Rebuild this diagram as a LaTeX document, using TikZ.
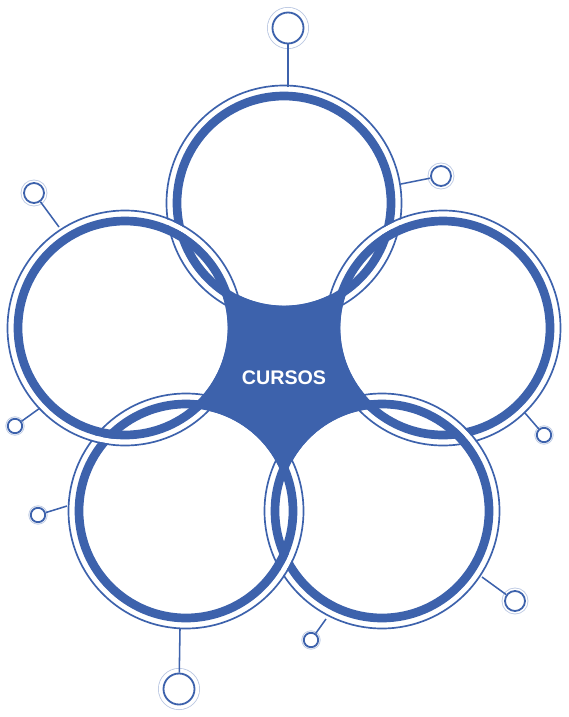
\documentclass[tikz,border=0pt]{standalone}
\usepackage{fontspec}
\newfontfamily\labelfont{Liberation Sans}
\usepackage{tikz}
\definecolor{ringblue}{HTML}{3D62AC}

\begin{document}
\begin{tikzpicture}[x=0.025cm, y=-0.025cm,
	thickring/.style={draw=ringblue, line width=6.2pt},
	thinring/.style={draw=ringblue, line width=1.2pt},
	gapring/.style={draw=white, line width=3.6pt},
	link/.style={draw=ringblue, line width=1.1pt},
	sat/.style 2 args={circle, inner sep=0pt, fill=white, draw=ringblue, line width=1.3pt,
		preaction={draw=ringblue!35, line width=#1},
		preaction={draw=white, line width=#2}}]
\useasboundingbox (0,0) rectangle (568,717);

\foreach \name/\x/\y in {T/284/203, L/125/328, R/443/328, BL/186/511, BR/382/511}
	\coordinate (\name) at (\x,\y);

\foreach \name in {T,R,BR,BL,L}
	{
		\draw [gapring] (\name) circle (114);
		\draw [thinring] (\name) circle (117.5);
		\draw [thickring] (\name) circle (107);
	}

\begin{scope}
	\clip (-50,-50) -- (-50,800) -- (650,800) -- (650,-50) -- cycle (T) circle (102.8);
	\clip (-50,-50) -- (-50,800) -- (650,800) -- (650,-50) -- cycle (R) circle (102.8);
	\clip (-50,-50) -- (-50,800) -- (650,800) -- (650,-50) -- cycle (BR) circle (102.8);
	\clip (-50,-50) -- (-50,800) -- (650,800) -- (650,-50) -- cycle (BL) circle (102.8);
	\clip (-50,-50) -- (-50,800) -- (650,800) -- (650,-50) -- cycle (L) circle (102.8);
	\fill [ringblue] (T) -- (R) -- (BR) -- (BL) -- (L) -- cycle;
\end{scope}

\node [font=\labelfont\bfseries\fontsize{14}{16}\selectfont, text=white] (cursos) at (284,378) {CURSOS};

\foreach \n/\x/\y/\ex/\ey/\s/\fa/\wh in {
		1/288/28/288/87/0.775cm/7.8pt/6.6pt,
		2/441/176/401/184/0.5cm/4.8pt/3.6pt,
		3/34/193/59/227/0.5cm/4.8pt/3.6pt,
		4/15/426/40/408/0.36cm/3.4pt/2.2pt,
		5/38/515/67/506/0.36cm/3.4pt/2.2pt,
		6/179/689/180/629/0.775cm/7.8pt/6.6pt,
		7/311/640/326/619/0.36cm/3.4pt/2.2pt,
		8/515/601/482/577/0.5cm/4.8pt/3.6pt,
		9/544/435/525/413/0.36cm/3.4pt/2.2pt
	}
	{
		\coordinate (e\n) at (\ex,\ey);
		\node [sat={\fa}{\wh}, minimum size=\s] (s\n) at (\x,\y) {};
		\draw [link] (e\n) -- (s\n);
	}

\end{tikzpicture}
\end{document}
